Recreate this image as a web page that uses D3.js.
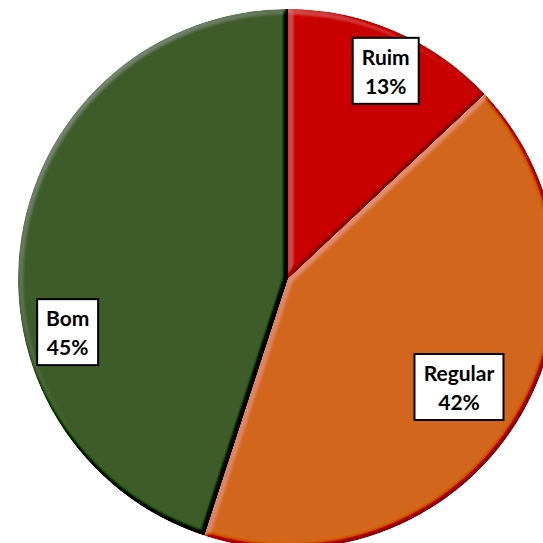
<!DOCTYPE html>
<html>
<head>
<meta charset="utf-8">
<script src="https://cdn.jsdelivr.net/npm/d3@7"></script>
<style>
  html, body { margin: 0; padding: 0; background: #fff; }
  svg { display: block; }
  .lbl text { font-family: Lato, "Open Sans", sans-serif; font-weight: 700; font-size: 21px; fill: #000; }
</style>
</head>
<body>
<svg id="chart" width="543" height="543"></svg>
<script>
// Avaliação: share of answers per category
const categories = ["Ruim", "Regular", "Bom"];
const values = [13, 42, 45];
const colors = ["#C90000", "#D2661A", "#3E5C2B"];

// label anchors: angle (fraction of the turn) and radius (fraction of pie radius)
const labelAnchor = [
  { turn: 0.070, r: 0.85 },
  { turn: 0.340, r: 0.75 },
  { turn: 0.712, r: 0.84 }
];

const cx = 288, cy = 279, R = 270;

const svg = d3.select("#chart");
const defs = svg.append("defs");

// soft bevel: lighting on the blurred slice outline
const elev = 55;
const gain = 0.7;
const f = defs.append("filter").attr("id", "bevel")
  .attr("x", "-5%").attr("y", "-5%").attr("width", "110%").attr("height", "110%");
f.append("feGaussianBlur").attr("in", "SourceAlpha").attr("stdDeviation", 2.5).attr("result", "blur");
f.append("feDiffuseLighting").attr("in", "blur").attr("surfaceScale", 3)
  .attr("diffuseConstant", 1).attr("lighting-color", "#fff").attr("result", "light")
  .append("feDistantLight").attr("azimuth", 225).attr("elevation", elev);
f.append("feComposite").attr("in", "SourceGraphic").attr("in2", "light")
  .attr("operator", "arithmetic").attr("k1", 0).attr("k2", 1).attr("k3", gain)
  .attr("k4", -gain * Math.sin(elev * Math.PI / 180)).attr("result", "lit");
f.append("feComposite").attr("in", "lit").attr("in2", "SourceAlpha").attr("operator", "in");

const pie = d3.pie().sort(null).value(d => d);
const arcs = pie(values);
const arc = d3.arc().innerRadius(0).outerRadius(R);

const g = svg.append("g").attr("transform", `translate(${cx},${cy})`);

g.selectAll("path.slice")
  .data(arcs)
  .join("path")
  .attr("class", "slice")
  .attr("d", arc)
  .attr("fill", (d, i) => colors[i])
  .attr("filter", "url(#bevel)");

// labels
const fmt = d => d + "%";
const lg = g.selectAll("g.lbl")
  .data(arcs)
  .join("g")
  .attr("class", "lbl")
  .attr("transform", (d, i) => {
    const a = labelAnchor[i].turn * 2 * Math.PI;
    const r = labelAnchor[i].r * R;
    return `translate(${r * Math.sin(a)},${-r * Math.cos(a)})`;
  });

lg.append("rect")
  .attr("fill", "#fff").attr("stroke", "#000").attr("stroke-width", 2);

lg.append("text").attr("text-anchor", "middle").attr("y", -14).attr("dy", "0.35em")
  .text((d, i) => categories[i]);
lg.append("text").attr("text-anchor", "middle").attr("y", 15).attr("dy", "0.35em")
  .text(d => fmt(d.data));

lg.each(function() {
  const grp = d3.select(this);
  let w = 0;
  grp.selectAll("text").each(function() { w = Math.max(w, this.getComputedTextLength()); });
  const bw = Math.round(w + 18), bh = 66;
  grp.select("rect").attr("x", -bw / 2).attr("y", -bh / 2 - 0.5).attr("width", bw).attr("height", bh);
});
</script>
</body>
</html>
